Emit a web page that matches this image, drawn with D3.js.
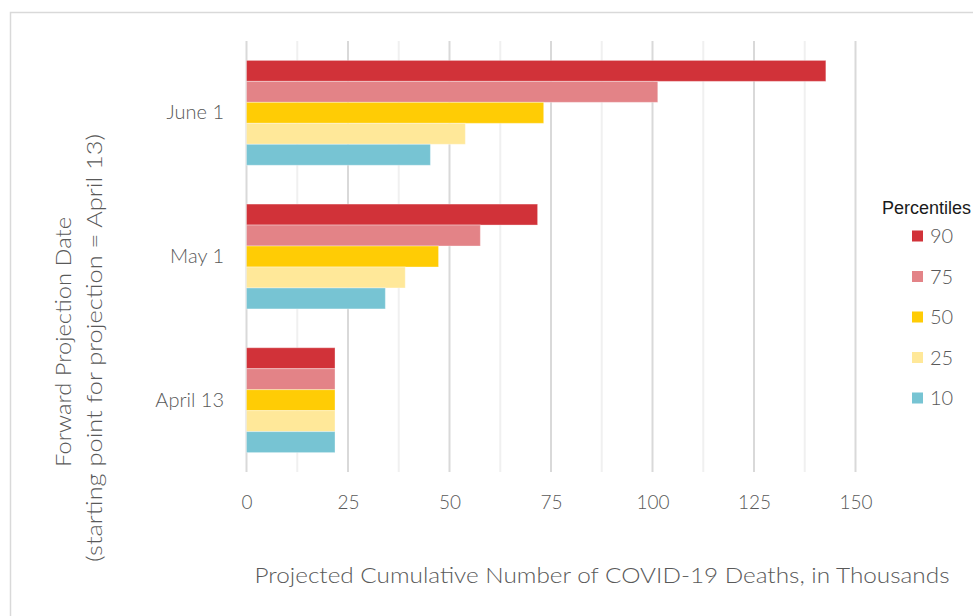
<!DOCTYPE html>
<html><head><meta charset="utf-8">
<script src="https://cdn.jsdelivr.net/npm/d3@7"></script>
<style>body{margin:0;background:#fff}svg{display:block}</style>
</head><body>
<svg id="c" width="973" height="616"></svg>
<script>
const categories = ["June 1", "May 1", "April 13"];
const percentiles = ["90", "75", "50", "25", "10"];
const colors = ["#d13239", "#e38387", "#ffcc05", "#ffe899", "#77c4d3"];
const p90 = [142.7, 71.7, 21.8];
const p75 = [101.3, 57.6, 21.8];
const p50 = [73.2, 47.3, 21.8];
const p25 = [53.9, 39.1, 21.8];
const p10 = [45.3, 34.2, 21.8];
const series = [p90, p75, p50, p25, p10];
const xTicks = [0, 25, 50, 75, 100, 125, 150];
const minorTicks = [12.5, 37.5, 62.5, 87.5, 112.5, 137.5];

(function () {
const svg = d3.select("#c");
const font = "Lato, 'Open Sans', sans-serif";
const fw = 300;
const gray = "#595959";

// frame
svg.append("rect").attr("x", 10.5).attr("y", 12.5).attr("width", 1200).attr("height", 1000)
  .attr("fill", "#fff").attr("stroke", "#d9d9d9").attr("stroke-width", 1.5);

const pl = 246.5, pr = 855.5, pt = 41, pb = 472;
const x = d3.scaleLinear().domain([0, 150]).range([pl, pr]);
const y0 = d3.scaleBand().domain(categories).range([pt, pb]).paddingInner(0.27).paddingOuter(0.135);
const y1 = d3.scaleBand().domain(percentiles).range([0, y0.bandwidth()]);

// gridlines
svg.append("g").selectAll("line").data(minorTicks).join("line")
  .attr("x1", d => x(d)).attr("x2", d => x(d)).attr("y1", pt).attr("y2", pb)
  .attr("stroke", "#f0f0f0").attr("stroke-width", 2);
svg.append("g").selectAll("line").data(xTicks).join("line")
  .attr("x1", d => x(d)).attr("x2", d => x(d)).attr("y1", pt).attr("y2", pb)
  .attr("stroke", "#d9d9d9").attr("stroke-width", 2);

// bars
const g = svg.append("g");
categories.forEach((c, ci) => {
  percentiles.forEach((p, pi) => {
    g.append("rect")
      .attr("x", x(0)).attr("y", y0(c) + y1(p))
      .attr("width", x(series[pi][ci]) - x(0)).attr("height", y1.bandwidth())
      .attr("fill", colors[pi]).attr("stroke", "rgba(255,255,255,0.35)").attr("stroke-width", 1);
  });
});

// x axis labels
const xAxis = d3.axisBottom(x).tickValues(xTicks).tickSize(0).tickPadding(0);
const xa = svg.append("g").attr("transform", `translate(0,${pb})`).call(xAxis);
xa.select(".domain").remove();
xa.selectAll("text").attr("y", 31).attr("dy", "0.32em")
  .attr("fill", gray).style("font-family", font).style("font-weight", fw).style("font-size", "19px");

// y axis labels
const yAxis = d3.axisLeft(y0).tickSize(0).tickPadding(0);
const ya = svg.append("g").attr("transform", `translate(224,0)`).call(yAxis);
ya.select(".domain").remove();
ya.selectAll("text").attr("dy", "0.32em")
  .attr("fill", gray).style("font-family", font).style("font-weight", fw).style("font-size", "20px");

// axis titles
svg.append("text").attr("x", 602).attr("y", 575).attr("dy", "0.35em").attr("text-anchor", "middle")
  .attr("fill", gray).style("font-family", font).style("font-weight", fw).style("font-size", "22px")
  .attr("textLength", 695).attr("lengthAdjust", "spacingAndGlyphs")
  .text("Projected Cumulative Number of COVID-19 Deaths, in Thousands");

const yt = svg.append("g").attr("transform", "translate(0,343) rotate(-90)");
yt.append("text").attr("x", 1).attr("y", 63).attr("dy", "0.35em").attr("text-anchor", "middle")
  .attr("fill", gray).style("font-family", font).style("font-weight", fw).style("font-size", "22px")
  .attr("textLength", 250).attr("lengthAdjust", "spacingAndGlyphs")
  .text("Forward Projection Date");
yt.append("text").attr("x", -5).attr("y", 94).attr("dy", "0.35em").attr("text-anchor", "middle")
  .attr("fill", gray).style("font-family", font).style("font-weight", fw).style("font-size", "22px")
  .attr("textLength", 428).attr("lengthAdjust", "spacingAndGlyphs")
  .text("(starting point for projection = April 13)");

// legend
const lg = svg.append("g");
lg.append("text").attr("x", 882).attr("y", 208).attr("dy", "0.35em")
  .attr("fill", "#1a1a1a").style("font-family", "'Liberation Sans', Arial, sans-serif").style("font-size", "18px")
  .text("Percentiles");
const ly = d3.scalePoint().domain(percentiles).range([236, 398]);
percentiles.forEach((p, i) => {
  lg.append("rect").attr("x", 912).attr("y", ly(p) - 5.5).attr("width", 11).attr("height", 11).attr("fill", colors[i]);
  lg.append("text").attr("x", 930).attr("y", ly(p)).attr("dy", "0.35em")
    .attr("fill", gray).style("font-family", font).style("font-weight", fw).style("font-size", "20px")
    .text(p);
});
})();
</script>
</body></html>
